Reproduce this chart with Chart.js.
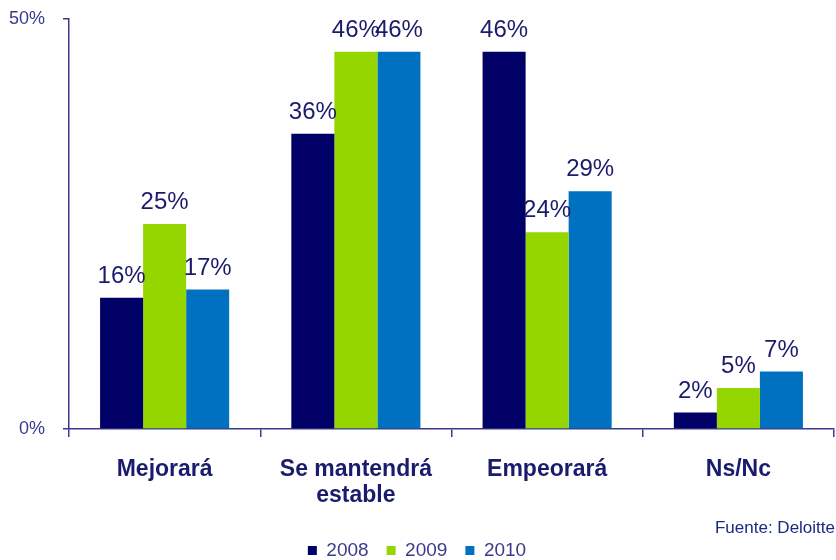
<!DOCTYPE html>
<html>
<head>
<meta charset="utf-8">
<script src="https://cdn.jsdelivr.net/npm/chart.js@4/dist/chart.umd.min.js"></script>
<style>
  html, body { margin: 0; padding: 0; background: #fff; }
  #wrap { position: relative; width: 836px; height: 560px; }
  #source {
    position: absolute; right: 1px; top: 518px;
    font: 17px "Liberation Sans", Arial, sans-serif; color: #1b2a80;
  }
</style>
</head>
<body>
<div id="wrap">
  <canvas id="chart" width="836" height="560"></canvas>
  <div id="source">Fuente: Deloitte</div>
</div>
<script>
const NAVY = "#1b1b6e";
const AXIS = "#3a3a8c";

const categories = [["Mejorará"], ["Se mantendrá", "estable"], ["Empeorará"], ["Ns/Nc"]];
const years = ["2008", "2009", "2010"];
const v2008 = [16, 36, 46, 2];
const v2009 = [25, 46, 24, 5];
const v2010 = [17, 46, 29, 7];
const colors = ["#000066", "#95d500", "#0070c0"];
const yTicks = [0, 50];

const valueLabels = {
  id: "valueLabels",
  afterDatasetsDraw(chart) {
    const ctx = chart.ctx;
    ctx.save();
    ctx.font = '24px "Liberation Sans", Arial, sans-serif';
    ctx.fillStyle = NAVY;
    ctx.textAlign = "center";
    ctx.textBaseline = "alphabetic";
    chart.data.datasets.forEach((ds, i) => {
      chart.getDatasetMeta(i).data.forEach((bar, j) => {
        ctx.fillText(ds.data[j] + "%", bar.x, bar.y - 15);
      });
    });
    ctx.restore();
  },
};

new Chart(document.getElementById("chart"), {
  type: "bar",
  data: {
    labels: categories,
    datasets: [v2008, v2009, v2010].map((d, i) => ({
      label: years[i],
      data: d,
      backgroundColor: colors[i],
      borderWidth: 0,
      categoryPercentage: 0.675,
      barPercentage: 1,
    })),
  },
  options: {
    responsive: false,
    animation: false,
    layout: { padding: { left: 0, right: 2, top: 0, bottom: -10 } },
    plugins: {
      tooltip: { enabled: false },
      legend: {
        position: "bottom",
        labels: {
          boxWidth: 9,
          boxHeight: 9,
          padding: 18,
          color: AXIS,
          font: { family: '"Liberation Sans", Arial, sans-serif', size: 19 },
        },
      },
    },
    scales: {
      x: {
        grid: { display: true, drawOnChartArea: false, offset: true, tickLength: 8, color: AXIS, lineWidth: 1.5 },
        border: { color: AXIS, width: 1.5 },
        ticks: {
          color: NAVY,
          padding: 20,
          maxRotation: 0,
          font: { family: '"Liberation Sans", Arial, sans-serif', size: 23, weight: "bold", lineHeight: 1.13 },
        },
        afterFit: (s) => { s.height = 94; },
      },
      y: {
        min: 0,
        max: 50,
        afterBuildTicks: (s) => { s.ticks = yTicks.map((v) => ({ value: v })); },
        grid: { display: true, drawOnChartArea: false, tickLength: 6, color: AXIS, lineWidth: 1.5 },
        border: { color: AXIS, width: 1.5 },
        ticks: {
          color: AXIS,
          padding: 18,
          font: { family: '"Liberation Sans", Arial, sans-serif', size: 18, lineHeight: 0.1 },
          callback: (v) => v + "%",
        },
        afterFit: (s) => { s.width = 69; },
      },
    },
  },
  plugins: [valueLabels],
});
</script>
</body>
</html>
